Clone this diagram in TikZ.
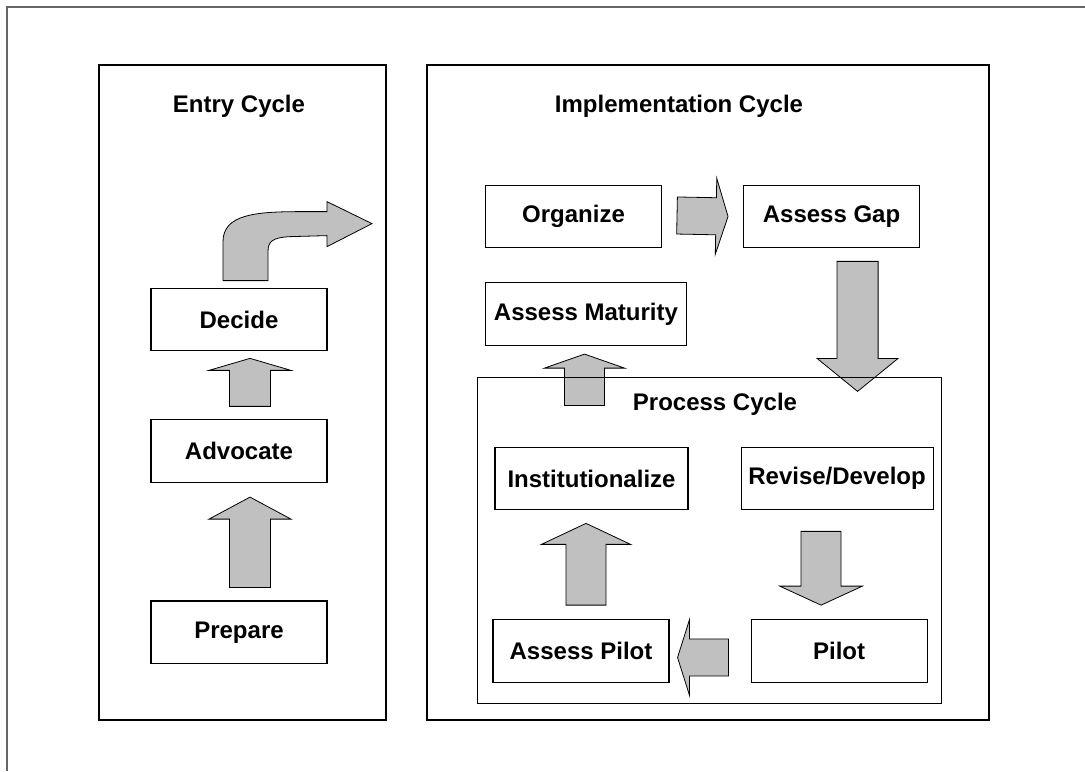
\documentclass[tikz,border=0pt]{standalone}
\usepackage{fontspec}
\setmainfont{Liberation Sans}
\usetikzlibrary{calc, positioning}

\definecolor{arrowgray}{HTML}{C0C0C0}

% block arrow: from, to, shaft half width, head half width, head length
\newcommand{\blockarrow}[5]{%
  \coordinate (ba-s) at (#1);
  \coordinate (ba-t) at (#2);
  \coordinate (ba-h) at ($(ba-t)!#5!(ba-s)$);
  \draw[blk] ($(ba-s)!#3!90:(ba-t)$) -- ($(ba-h)!#3!90:(ba-t)$) -- ($(ba-h)!#4!90:(ba-t)$) -- (ba-t)
    -- ($(ba-h)!#4!-90:(ba-t)$) -- ($(ba-h)!#3!-90:(ba-t)$) -- ($(ba-s)!#3!-90:(ba-t)$) -- cycle;
}

\begin{document}
\begin{tikzpicture}[
x=0.75pt, y=-0.75pt,
font=\fontsize{18}{21.6}\selectfont\bfseries,
    box/.style = {rectangle, draw=black, line width=0.8pt,
        minimum width=132pt, minimum height=47pt, inner sep=0pt},
    frame/.style = {rectangle, draw=black, line width=0.9pt, inner sep=0pt},
    blk/.style = {draw=black, line width=0.6pt, fill=arrowgray},
    title/.style = {inner sep=0pt},
]
\useasboundingbox (0,0) rectangle (1085,771);

\draw[line width=1.5pt, black!60] (1085,7) -- (7,7) -- (7,771);

% cycles
\node[frame, minimum width=215.25pt, minimum height=491.25pt] (Entry) at (242.5,392.5) {};
\node[frame, minimum width=421.5pt, minimum height=491.25pt] (Impl) at (708,392.5) {};
\node[frame, draw=none, minimum width=347.25pt, minimum height=243.75pt] (Proc) at (709.5,540.5) {};

\node[title] (EntryT) at ($(Entry.north)+(-3.5,42)$) {Entry Cycle};
\node[title] (ImplT) at ($(Impl.north)+(-29,42)$) {Implementation Cycle};
\node[title] (ProcT) at ($(Proc.north)+(5.5,27)$) {Process Cycle};

% entry
\node[box] (Decide) at (239,319.5) {Decide};
\node[box, below=51pt of Decide] (Advocate) {Advocate};
\node[box, below=88pt of Advocate] (Prepare) {Prepare};

% implementation
\node[box] (Organize) at (573.5,216.5) {Organize};
\node[box, right=60.75pt of Organize] (Gap) {Assess Gap};
\node[box, minimum width=150.75pt, below=25.5pt of Organize.south west, anchor=north west] (Maturity) {Assess Maturity};

% process
\node[box, minimum width=144.75pt] (Inst) at (591.5,478.5) {Institutionalize};
\node[box, minimum width=144pt, right=39pt of Inst] (Revise) {Revise/Develop};
\node[box] (APilot) at (581,651) {Assess Pilot};
\node[box, right=60.75pt of APilot] (Pilot) {Pilot};

% arrows
\blockarrow{$(Prepare.north)+(11,-13)$}{$(Advocate.south)+(11,14)$}{15.4pt}{30.75pt}{16.5pt}
\blockarrow{$(Advocate.north)+(11,-13)$}{$(Decide.south)+(11,7)$}{15.4pt}{30.75pt}{9pt}
\draw[blk, shift={(Decide.north)}] (-16,-7) -- (-16,-46) .. controls (-16,-73) and (16,-76) .. (61,-76)
  -- (88,-76) -- (88,-86) -- (133,-64) -- (88,-41) -- (88,-52) -- (51,-51)
  .. controls (33,-50) and (29,-46) .. (29,-36) -- (29,-7) -- cycle;
\blockarrow{$(Organize.east)+(15,-1)$}{$(Gap.west)+(-15,0)$}{13.9pt}{28.5pt}{9pt}
\blockarrow{$(Gap.south)+(26,13)$}{$(Gap.south |- Proc.north)+(26,14)$}{15.4pt}{30.4pt}{24.75pt}
\blockarrow{$(Maturity.south |- Proc.north)+(-1.5,28)$}{$(Maturity.south)+(-1.5,8)$}{15pt}{30pt}{10.5pt}
\blockarrow{$(Revise.south)+(-16,21)$}{$(Revise.south |- Pilot.north)+(-16,-14)$}{15pt}{31pt}{14.25pt}
\blockarrow{$(Pilot.west)+(-22,6.5)$}{$(APilot.east)+(8,6.5)$}{13.9pt}{28.5pt}{9pt}
\blockarrow{$(APilot.north)+(5,-14)$}{$(APilot.north |- Inst.south)+(5,13)$}{15pt}{33.4pt}{15.75pt}

% process cycle border over the arrows
\draw[line width=0.9pt] (Proc.north west) rectangle (Proc.south east);

\end{tikzpicture}
\end{document}
